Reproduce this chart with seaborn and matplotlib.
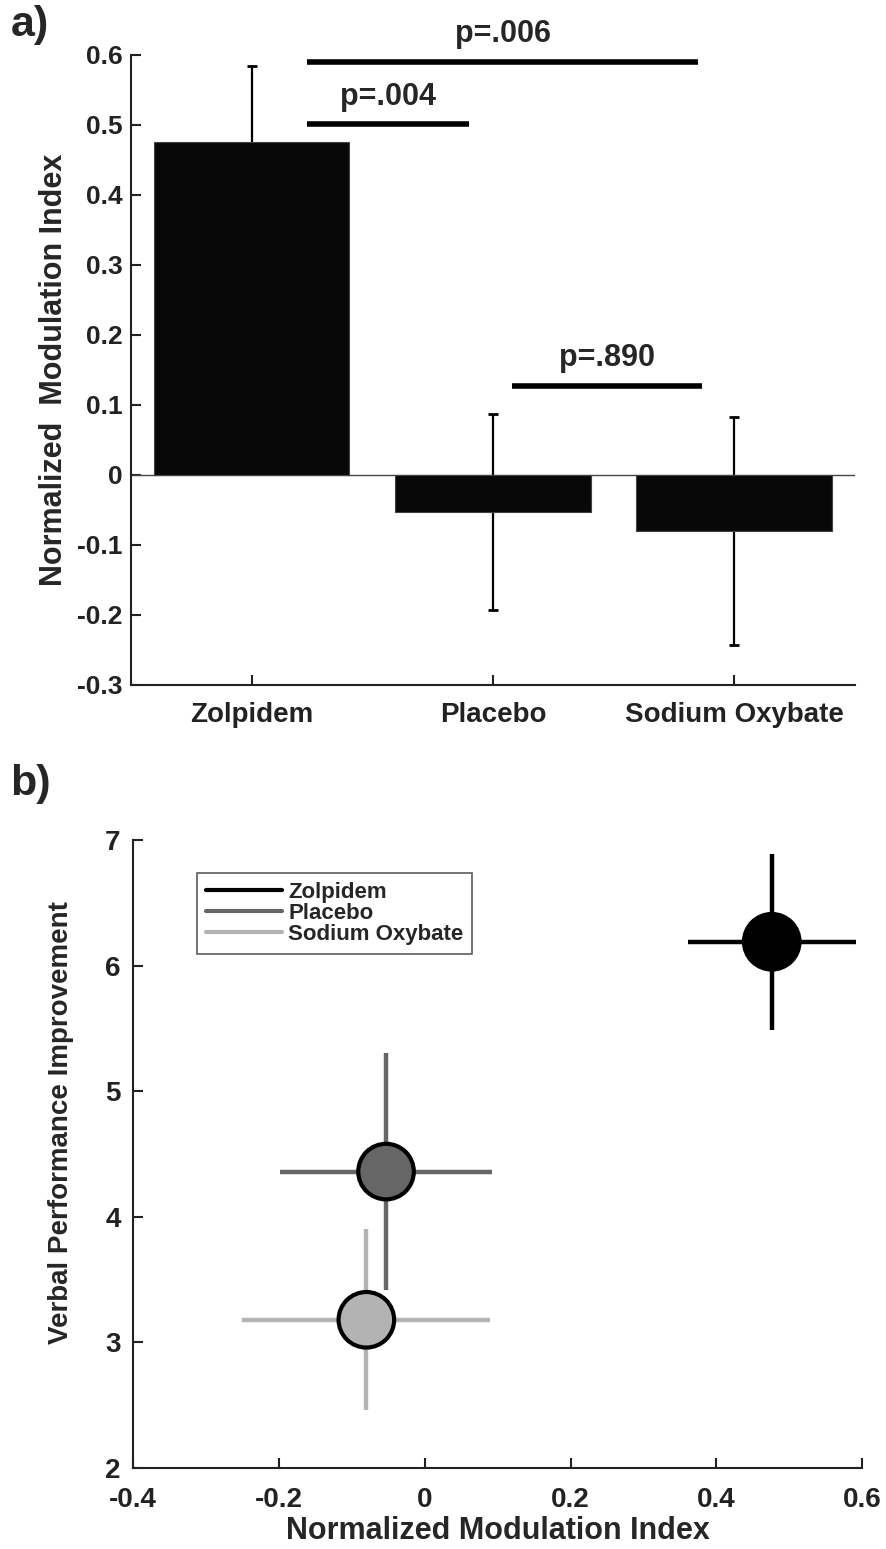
import numpy as np
import pandas as pd
import matplotlib
matplotlib.use("Agg")
import matplotlib.pyplot as plt
from matplotlib.lines import Line2D
from matplotlib.ticker import FuncFormatter
import seaborn as sns

# data
drugs = ["Zolpidem", "Placebo", "Sodium Oxybate"]
mod_index = [0.476, -0.053, -0.080]
mod_index_err = [0.108, 0.140, 0.163]
verbal_improve = [6.19, 4.36, 3.18]
verbal_err = [0.70, 0.945, 0.72]
mod_index_err_x = [0.115, 0.145, 0.17]
drug_colors = ["#000000", "#666666", "#b3b3b3"]

# significance bars: left/right in category positions, height, label
sig_left = [0.23, 0.23, 1.08]
sig_right = [0.90, 1.85, 1.865]
sig_y = [0.501, 0.590, 0.127]
sig_text = ["p=.004", "p=.006", "p=.890"]

sns.set_style("ticks")
plt.rcParams['font.family'] = ['Liberation Sans', 'DejaVu Sans']
plt.rcParams['font.weight'] = 'bold'
plt.rcParams['axes.labelweight'] = 'bold'

df = pd.DataFrame({"drug": drugs, "mi": mod_index})

fig = plt.figure(figsize=(8.87, 15.49), dpi=100)
ax1 = fig.add_axes([0.1477, 0.5578, 0.816, 0.4067])
ax2 = fig.add_axes([0.150, 0.0523, 0.822, 0.4054])

# ---- panel a
ax1.errorbar(range(len(drugs)), mod_index, yerr=mod_index_err, fmt="none",
             ecolor="black", elinewidth=1.6, capsize=3.5, capthick=2, zorder=1.5)
sns.barplot(data=df, x="drug", y="mi", color="#080808", width=0.81,
            edgecolor="#444444", linewidth=0.8, ax=ax1, zorder=2)
ax1.axhline(0, color="#444444", lw=1.0, zorder=1)
for l, r, y, t in zip(sig_left, sig_right, sig_y, sig_text):
    ax1.plot([l, r], [y, y], color="black", lw=4, solid_capstyle="butt", clip_on=False)
    ax1.text((l + r) / 2, y + 0.018, t, ha="center", va="bottom",
             fontsize=22, fontweight="bold")
ax1.set_xlim(-0.5, 2.5)
ax1.set_ylim(-0.3, 0.6)
ax1.set_yticks(np.arange(-0.3, 0.61, 0.1))
fmt = FuncFormatter(lambda v, p: "0" if abs(v) < 1e-9 else f"{v:g}")
ax1.yaxis.set_major_formatter(fmt)
ax1.set_xlabel("")
ax1.set_ylabel("Normalized  Modulation Index", fontsize=22, labelpad=6)
ax1.tick_params(direction="in", length=7, width=1.5, colors="#222222")
ax1.tick_params(axis="y", labelsize=19, pad=6)
ax1.tick_params(axis="x", labelsize=20, pad=12)
for lab in ax1.get_xticklabels() + ax1.get_yticklabels():
    lab.set_fontweight("bold")
sns.despine(ax=ax1)
for s in ["left", "bottom"]:
    ax1.spines[s].set_linewidth(1.5)
    ax1.spines[s].set_color("#222222")

# ---- panel b
for i in range(len(drugs)):
    ax2.errorbar(mod_index[i], verbal_improve[i], xerr=mod_index_err_x[i],
                 yerr=verbal_err[i], fmt="none", ecolor=drug_colors[i],
                 elinewidth=3.2, capsize=0, zorder=2)
sc = pd.DataFrame({"x": mod_index, "y": verbal_improve, "drug": drugs})
sns.scatterplot(data=sc, x="x", y="y", hue="drug", palette=drug_colors,
                s=1600, edgecolor="black", linewidth=3, legend=False,
                ax=ax2, zorder=3)
ax2.set_xlim(-0.4, 0.6)
ax2.set_ylim(2, 7)
ax2.set_xticks(np.arange(-0.4, 0.61, 0.2))
ax2.set_yticks(range(2, 8))
ax2.xaxis.set_major_formatter(fmt)
ax2.set_xlabel("Normalized Modulation Index", fontsize=22, labelpad=2)
ax2.set_ylabel("Verbal Performance Improvement", fontsize=20, labelpad=22)
ax2.yaxis.label.set_y(0.55)
ax2.tick_params(direction="in", length=7, width=1.5, labelsize=20, colors="#222222")
ax2.tick_params(axis="x", pad=14)
ax2.tick_params(axis="y", pad=9)
for lab in ax2.get_xticklabels() + ax2.get_yticklabels():
    lab.set_fontweight("bold")
sns.despine(ax=ax2)
for s in ["left", "bottom"]:
    ax2.spines[s].set_linewidth(1.5)
    ax2.spines[s].set_color("#222222")

handles = [Line2D([0], [0], color=c, lw=3) for c in drug_colors]
leg = ax2.legend(handles, drugs, loc="upper left", bbox_to_anchor=(0.088, 0.947),
                 frameon=True, fancybox=False, edgecolor="#333333",
                 prop={"weight": "bold", "size": 16}, handlelength=3.4,
                 handletextpad=0.3, labelspacing=0.0, borderpad=0.4,
                 borderaxespad=0)
leg.get_frame().set_linewidth(1.2)

fig.text(0.012, 0.997, "a)", fontsize=31, fontweight="bold", va="top")
fig.text(0.012, 0.507, "b)", fontsize=31, fontweight="bold", va="top")

plt.savefig("out.png", dpi=100)
